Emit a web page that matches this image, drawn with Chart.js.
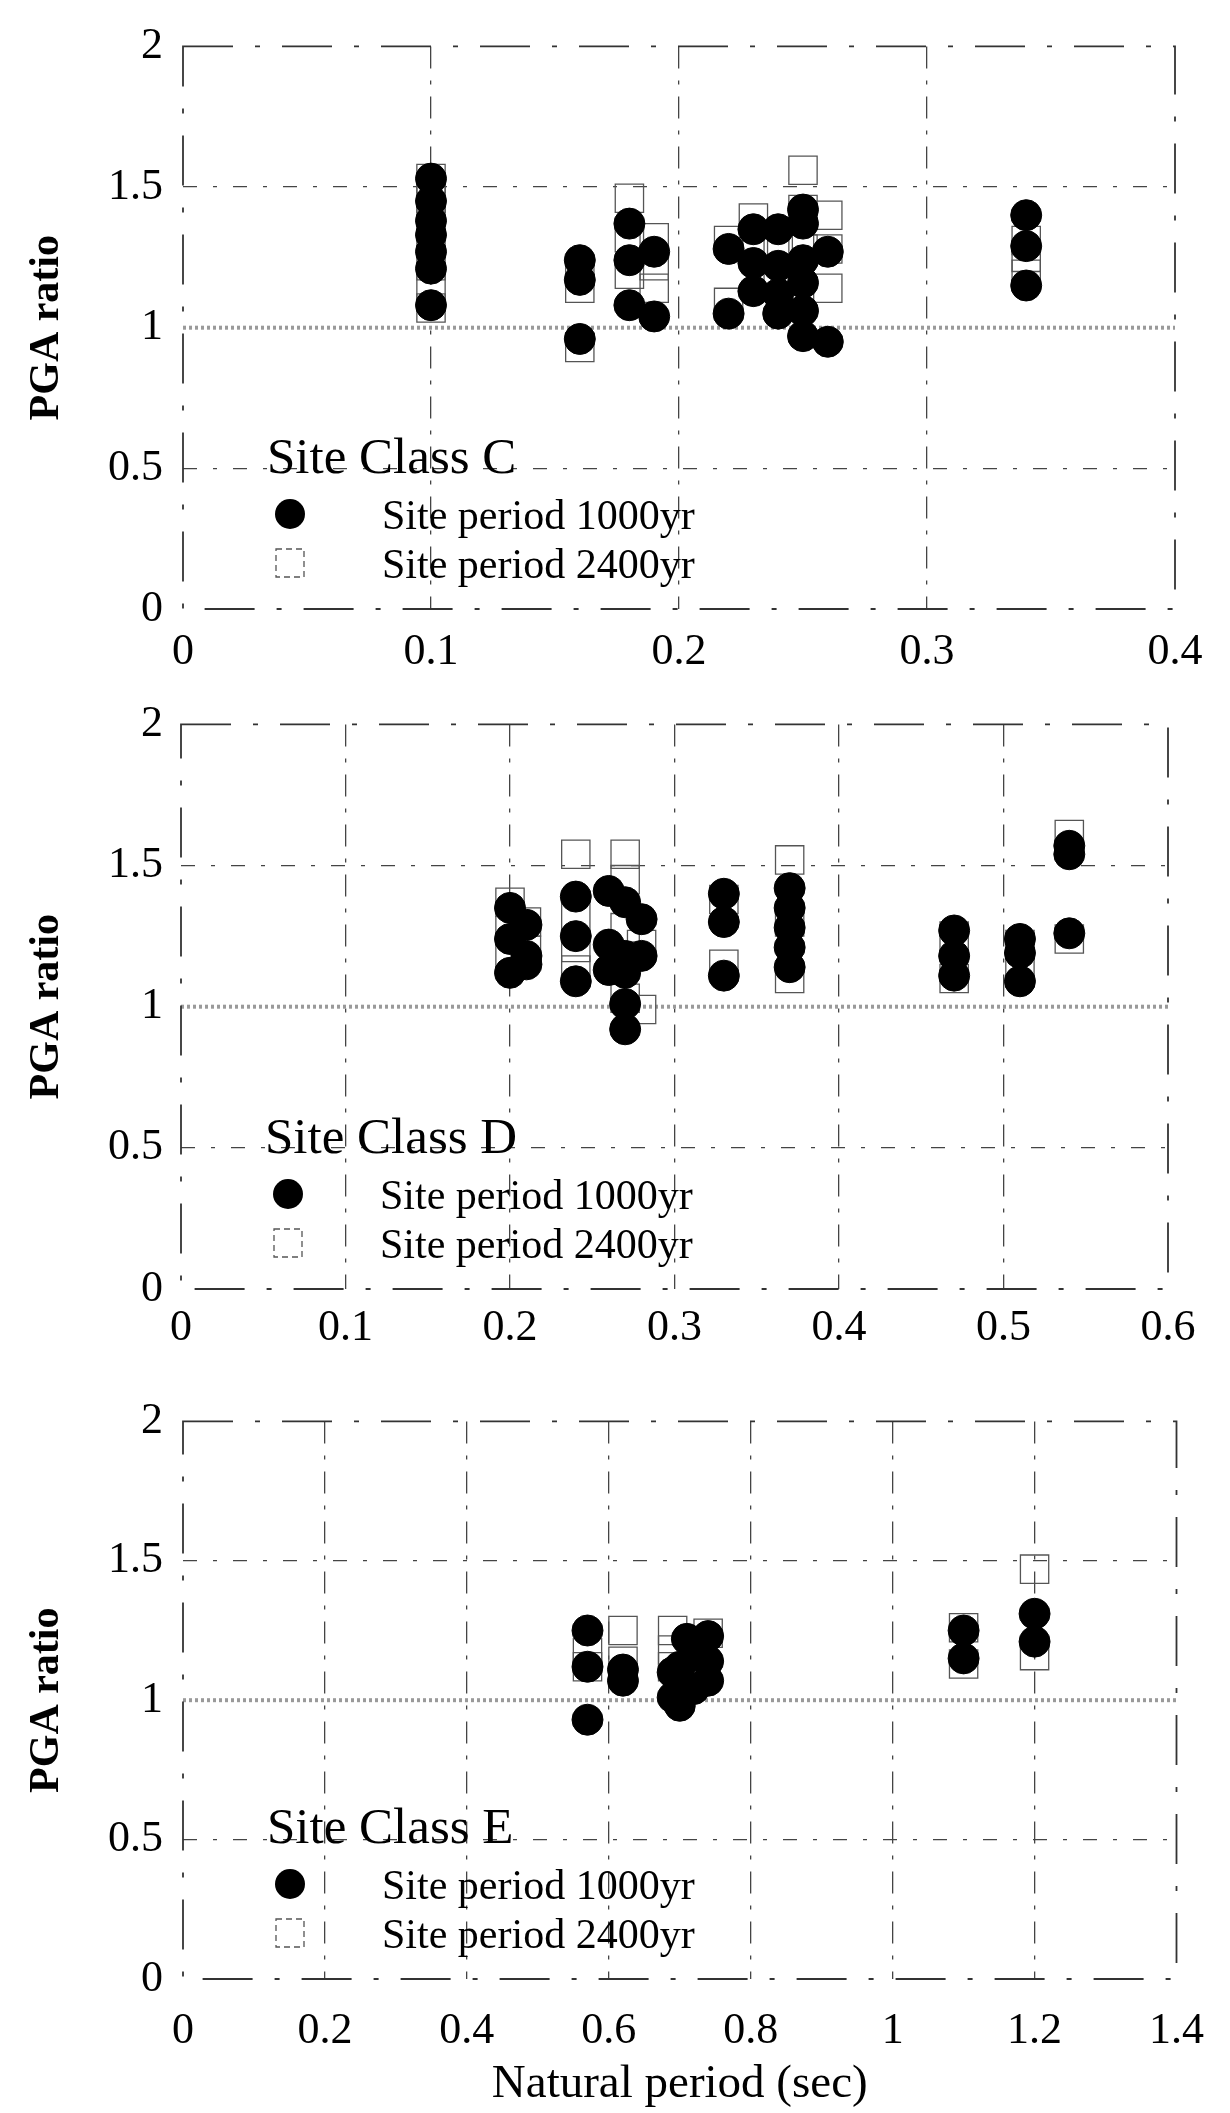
<!DOCTYPE html>
<html><head><meta charset="utf-8">
<script src="https://cdn.jsdelivr.net/npm/chart.js@4.4.1/dist/chart.umd.min.js"></script>
<style>
html,body{margin:0;padding:0;background:#fff;width:1230px;height:2113px;overflow:hidden;position:relative;}
.wrap{position:absolute;left:0;width:1230px;}
canvas{display:block;}
</style></head><body>
<div class="wrap" style="top:0px;height:689px"><canvas id="cC" width="1230" height="689"></canvas></div>
<div class="wrap" style="top:680px;height:689px"><canvas id="cD" width="1230" height="689"></canvas></div>
<div class="wrap" style="top:1375px;height:740px"><canvas id="cE" width="1230" height="740"></canvas></div>
<script>
// ---------- tick values / labels ----------
const yTickValues = [0, 0.5, 1, 1.5, 2];
const yTickLabels = ['0', '0.5', '1', '1.5', '2'];
const xTicksC = [0, 0.1, 0.2, 0.3, 0.4];
const xLabelsC = ['0', '0.1', '0.2', '0.3', '0.4'];
const xTicksD = [0, 0.1, 0.2, 0.3, 0.4, 0.5, 0.6];
const xLabelsD = ['0', '0.1', '0.2', '0.3', '0.4', '0.5', '0.6'];
const xTicksE = [0, 0.2, 0.4, 0.6, 0.8, 1.0, 1.2, 1.4];
const xLabelsE = ['0', '0.2', '0.4', '0.6', '0.8', '1', '1.2', '1.4'];

const seriesNames = ['Site period 1000yr', 'Site period 2400yr'];
const panelTitles = ['Site Class C', 'Site Class D', 'Site Class E'];
const yTitle = 'PGA ratio';
const xTitle = 'Natural period (sec)';

// ---------- Site Class C ----------
const periodC1000 = [0.10,0.10,0.10,0.10,0.10,0.10,0.10, 0.16,0.16,0.16, 0.18,0.18,0.18, 0.19,0.19, 0.22,0.22,
  0.23,0.23,0.23, 0.24,0.24,0.24,0.24, 0.25,0.25,0.25,0.25,0.25,0.25, 0.26,0.26, 0.34,0.34,0.34];
const pgaC1000 = [1.53,1.45,1.38,1.33,1.27,1.21,1.08, 1.24,1.17,0.96, 1.37,1.24,1.08, 1.27,1.04, 1.28,1.05,
  1.35,1.23,1.13, 1.35,1.22,1.12,1.05, 1.42,1.37,1.24,1.16,1.06,0.97, 1.27,0.95, 1.40,1.29,1.15];
const periodC2400 = [0.10,0.10,0.10,0.10,0.10,0.10,0.10, 0.16,0.16,0.16, 0.18,0.18,0.18, 0.19,0.19,0.19, 0.22,0.22,
  0.23,0.23, 0.24,0.24, 0.25,0.25,0.25, 0.26,0.26,0.26, 0.34,0.34,0.34];
const pgaC2400 = [1.53,1.46,1.38,1.30,1.22,1.14,1.07, 1.20,1.14,0.93, 1.46,1.32,1.19, 1.32,1.22,1.14, 1.31,1.09,
  1.39,1.27, 1.30,1.20, 1.56,1.42,1.28, 1.40,1.28,1.14, 1.31,1.25,1.19];

// ---------- Site Class D ----------
const periodD1000 = [0.20,0.20,0.20, 0.21,0.21,0.21, 0.24,0.24,0.24, 0.26,0.26,0.26, 0.27,0.27,0.27,0.27,0.27,
  0.28,0.28, 0.33,0.33,0.33, 0.37,0.37,0.37,0.37,0.37, 0.47,0.47,0.47, 0.51,0.51,0.51, 0.54,0.54,0.54];
const pgaD1000 = [1.35,1.24,1.12, 1.29,1.18,1.15, 1.39,1.25,1.09, 1.41,1.22,1.13, 1.37,1.18,1.12,1.01,0.92,
  1.31,1.18, 1.40,1.30,1.11, 1.42,1.35,1.28,1.21,1.14, 1.27,1.18,1.11, 1.24,1.19,1.09, 1.57,1.54,1.26];
const periodD2400 = [0.20,0.20,0.20, 0.21,0.21, 0.24,0.24,0.24,0.24, 0.27,0.27,0.27,0.27, 0.28,0.28,
  0.33,0.33, 0.37,0.37,0.37, 0.47,0.47, 0.51,0.51, 0.54,0.54];
const pgaD2400 = [1.37,1.27,1.17, 1.30,1.20, 1.54,1.32,1.21,1.13, 1.54,1.45,1.28,1.03, 1.22,0.99,
  1.38,1.15, 1.52,1.30,1.10, 1.25,1.10, 1.22,1.12, 1.61,1.24];

// ---------- Site Class E ----------
const periodE1000 = [0.57,0.57,0.57, 0.62,0.62, 0.69,0.69, 0.70,0.70, 0.71, 0.72,0.72, 0.74,0.74,0.74, 1.10,1.10, 1.20,1.20];
const pgaE1000 = [1.25,1.12,0.93, 1.11,1.07, 1.10,1.01, 1.12,0.98, 1.22, 1.16,1.04, 1.23,1.14,1.07, 1.25,1.15, 1.31,1.21];
const periodE2400 = [0.57,0.57, 0.62,0.62, 0.69,0.69,0.69, 0.72, 0.74, 1.10,1.10, 1.20,1.20];
const pgaE2400 = [1.17,1.12, 1.25,1.14, 1.25,1.18,1.12, 1.15, 1.24, 1.26,1.13, 1.47,1.16];

// ---------- helpers ----------
const pts = (xs, ys) => xs.map((x, i) => ({ x: x, y: ys[i] }));
const SERIF = '"Liberation Serif", "Times New Roman", serif';

const framePlugin = {
  id: 'frame',
  beforeDatasetsDraw(chart) {
    const { ctx, chartArea: a, scales } = chart;
    ctx.save();
    // reference line at PGA ratio = 1 (speckled dotted band)
    const y1 = scales.y.getPixelForValue(1);
    ctx.strokeStyle = '#9a9a9a';
    ctx.lineWidth = 4;
    ctx.setLineDash([3, 3]);
    ctx.beginPath(); ctx.moveTo(a.left, y1); ctx.lineTo(a.right, y1); ctx.stroke();
    // frame
    ctx.strokeStyle = '#333';
    ctx.lineWidth = 1.8;
    ctx.setLineDash([50, 22, 5, 22]);
    ctx.strokeRect(a.left, a.top, a.right - a.left, a.bottom - a.top);
    ctx.restore();
  }
};

const inPlotLegend = {
  id: 'inPlotLegend',
  afterDraw(chart, args, opts) {
    const { ctx, chartArea: a } = chart;
    const L = a.left, B = a.bottom;
    ctx.save();
    ctx.fillStyle = '#000';
    ctx.textAlign = 'left';
    ctx.textBaseline = 'alphabetic';
    ctx.font = '51px ' + SERIF;
    ctx.fillText(opts.title, L + 84, B - 136);
    ctx.font = '42px ' + SERIF;
    // circle marker
    ctx.beginPath();
    ctx.arc(L + 107, B - 95, 15, 0, Math.PI * 2);
    ctx.fill();
    ctx.fillText(seriesNames[0], L + 199, B - 80);
    // square marker
    ctx.strokeStyle = '#555';
    ctx.lineWidth = 1.3;
    ctx.setLineDash([6, 4]);
    ctx.strokeRect(L + 93, B - 60, 28, 28);
    ctx.setLineDash([]);
    ctx.fillText(seriesNames[1], L + 199, B - 31);
    ctx.restore();
  }
};

function makePanel(id, p) {
  const lastX = p.xTicks[p.xTicks.length - 1];
  const xScale = {
    type: 'linear', min: 0, max: lastX,
    afterBuildTicks: (s) => { s.ticks = p.xTicks.map(v => ({ value: v })); },
    afterFit: (s) => { s.height = p.xAxisH; },
    ticks: {
      autoSkip: false, maxRotation: 0, color: '#000', padding: p.xTickPad,
      font: { family: SERIF, size: 44 },
      callback: (v) => { const i = p.xTicks.indexOf(v); return i >= 0 ? p.xLabels[i] : ''; }
    },
    grid: {
      drawTicks: false, lineWidth: 1.3,
      color: (c) => { const v = c.tick && c.tick.value; return (v === 0 || v === lastX) ? 'transparent' : '#444'; }
    },
    border: { display: false, dash: [22, 12, 4, 12] },
    title: p.showXTitle ? { display: true, text: xTitle, color: '#000', font: { family: SERIF, size: 47 }, padding: { top: 0, bottom: 2 } } : { display: false }
  };
  const yScale = {
    type: 'linear', min: 0, max: 2,
    afterBuildTicks: (s) => { s.ticks = yTickValues.map(v => ({ value: v })); },
    afterFit: (s) => { s.width = p.yAxisW; },
    ticks: {
      color: '#000', padding: p.yTickPad,
      font: { family: SERIF, size: 44 },
      callback: (v) => { const i = yTickValues.indexOf(v); return i >= 0 ? yTickLabels[i] : ''; }
    },
    grid: {
      drawTicks: false, lineWidth: 1.3,
      color: (c) => { const v = c.tick && c.tick.value; return (v === 0 || v === 2 || v === 1) ? 'transparent' : '#444'; }
    },
    border: { display: false, dash: [14, 16, 4, 16] },
    title: { display: true, text: yTitle, color: '#000', font: { family: SERIF, size: 42, weight: 'bold' }, padding: { top: 22, bottom: 0 } }
  };
  return new Chart(document.getElementById(id), {
    type: 'scatter',
    data: {
      datasets: [
        { label: seriesNames[0], data: pts(p.x1, p.y1), pointStyle: 'circle', pointRadius: 15.5, pointHoverRadius: 15.5,
          backgroundColor: '#000', borderColor: '#000', borderWidth: 1 },
        { label: seriesNames[1], data: pts(p.x2, p.y2), pointStyle: 'rect', pointRadius: 20, pointHoverRadius: 20,
          backgroundColor: 'rgba(0,0,0,0)', borderColor: '#555', borderWidth: 1.3 }
      ]
    },
    options: {
      responsive: false, animation: false, devicePixelRatio: 1,
      layout: { padding: { left: 0, top: p.padTop, right: p.padRight, bottom: 0 } },
      plugins: { legend: { display: false }, tooltip: { enabled: false }, inPlotLegend: { title: p.title } },
      scales: { x: xScale, y: yScale }
    },
    plugins: [framePlugin, inPlotLegend]
  });
}

makePanel('cC', { title: panelTitles[0], x1: periodC1000, y1: pgaC1000, x2: periodC2400, y2: pgaC2400,
  xTicks: xTicksC, xLabels: xLabelsC, padTop: 44, padRight: 55, yAxisW: 183, yTickPad: 20, xAxisH: 80, xTickPad: 17, showXTitle: false });
makePanel('cD', { title: panelTitles[1], x1: periodD1000, y1: pgaD1000, x2: periodD2400, y2: pgaD2400,
  xTicks: xTicksD, xLabels: xLabelsD, padTop: 41, padRight: 62, yAxisW: 181, yTickPad: 18, xAxisH: 80, xTickPad: 13, showXTitle: false });
makePanel('cE', { title: panelTitles[2], x1: periodE1000, y1: pgaE1000, x2: periodE2400, y2: pgaE2400,
  xTicks: xTicksE, xLabels: xLabelsE, padTop: 44, padRight: 53, yAxisW: 183, yTickPad: 20, xAxisH: 136, xTickPad: 26, showXTitle: true });
</script>
</body></html>
